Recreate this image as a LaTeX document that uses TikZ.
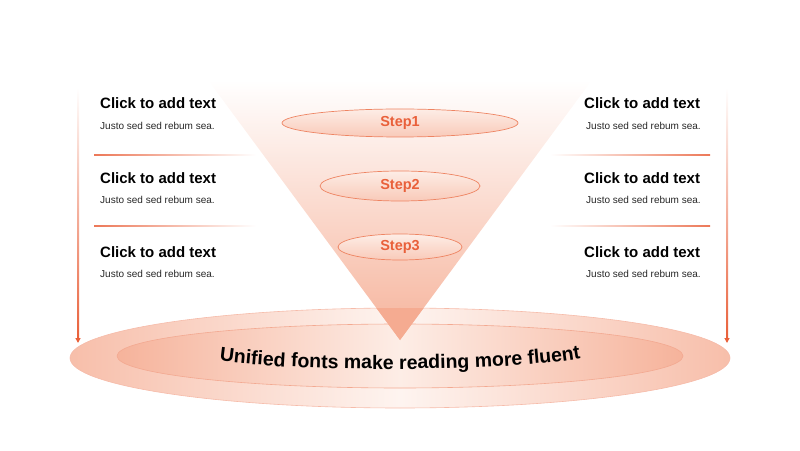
\documentclass[tikz,border=0pt]{standalone}
\usepackage{fontspec}
\setmainfont{Liberation Sans}
\usepackage{tikz}
\usetikzlibrary{
  positioning, shapes.geometric, arrows.meta, calc, decorations.text
}
\definecolor{myorange}{HTML}{E9603A}
\definecolor{mysalmon}{HTML}{F6B39B}
\definecolor{mylight}{HTML}{FDEDE6}
\definecolor{myline}{HTML}{EE8462}
\tikzset{
	titletext/.style={
			anchor=west,
			inner sep=0pt,
			text=black,
			font=\fontsize{15}{18}\selectfont\bfseries
		},
	bodytext/.style={
			anchor=west,
			inner sep=0pt,
			text=black!85,
			font=\fontsize{10}{12}\selectfont
		},
	stepnode/.style={
			ellipse,
			draw=myline,
			line width=0.7pt,
			top color=mylight,
			bottom color=mysalmon!70,
			inner sep=0pt,
			text=myorange,
			font=\fontsize{14.5}{17}\selectfont\bfseries
		},
	basenode/.style={
			ellipse,
			draw=myline!55,
			line width=0.6pt,
			left color=mysalmon!85,
			right color=mysalmon!85,
			middle color=mylight!60,
			inner sep=0pt
		},
	arrowtip/.style={
			myorange,
			line width=1.6pt,
			-{Triangle[length=5pt, width=5pt]}
		}
}

\begin{document}
\begin{tikzpicture}[x=1pt, y=1pt]

  \useasboundingbox (0,0) rectangle (800,450);

  \node[basenode, minimum width=660pt, minimum height=100pt] (base) at (400,92) {};
  \node[basenode, draw=myline!70, left color=mysalmon, right color=mysalmon, middle color=mylight,
        minimum width=566pt, minimum height=64pt] (inner) at (400,94) {};

  \shade[top color=white, middle color=mylight, bottom color=mysalmon]
    (208,370) -- (592,370) -- (400,110) -- cycle;
  \begin{scope}
    \clip (base.center) ellipse (330 and 50);
    \fill[mysalmon!90!myorange] (208,370) -- (592,370) -- (400,110) -- cycle;
  \end{scope}

  \node[stepnode, minimum width=236pt, minimum height=28pt] (s1) at (400,327) {Step1};
  \node[stepnode, minimum width=160pt, minimum height=30pt] (s2) at (400,264) {Step2};
  \node[stepnode, minimum width=124pt, minimum height=26pt] (s3) at (400,203) {Step3};

  \path[decorate, decoration={text along path, text align=center,
        text format delimiters={|}{|},
        text={|\fontsize{19.5}{22}\selectfont\bfseries|Unified fonts make reading more fluent}}]
    (208,91) .. controls (280,77) and (520,77) .. (592,94);

  \node[titletext] (lt1) at (100,347) {Click to add text};
  \node[bodytext] (lb1) at (100,324) {Justo sed sed rebum sea.};
  \node[titletext] (lt2) at (100,272) {Click to add text};
  \node[bodytext] (lb2) at (100,250) {Justo sed sed rebum sea.};
  \node[titletext] (lt3) at (100,198) {Click to add text};
  \node[bodytext] (lb3) at (100,176) {Justo sed sed rebum sea.};

  \node[titletext] (rt1) at (584,347) {Click to add text};
  \node[bodytext] (rb1) at (586,324) {Justo sed sed rebum sea.};
  \node[titletext] (rt2) at (584,272) {Click to add text};
  \node[bodytext] (rb2) at (586,250) {Justo sed sed rebum sea.};
  \node[titletext] (rt3) at (584,198) {Click to add text};
  \node[bodytext] (rb3) at (586,176) {Justo sed sed rebum sea.};

  \coordinate (la1) at (78,362);
  \coordinate (la2) at (78,107);
  \coordinate (ra1) at (727,362);
  \coordinate (ra2) at (727,107);
  \shade[top color=white, middle color=myorange!45, bottom color=myorange] ($(la1)+(-1,0)$) rectangle ($(la2)+(1,4)$);
  \shade[top color=white, middle color=myorange!45, bottom color=myorange] ($(ra1)+(-1,0)$) rectangle ($(ra2)+(1,4)$);
  \draw[arrowtip] ($(la2)+(0,6)$) -- (la2);
  \draw[arrowtip] ($(ra2)+(0,6)$) -- (ra2);

  \coordinate (ls1) at (94,295);
  \coordinate (ls2) at (94,224);
  \coordinate (rs1) at (710,295);
  \coordinate (rs2) at (710,224);
  \shade[left color=myorange!85, right color=white] ($(ls1)+(0,-0.5)$) rectangle ($(ls1)+(162,0.5)$);
  \shade[left color=myorange!85, right color=white] ($(ls2)+(0,-0.5)$) rectangle ($(ls2)+(162,0.5)$);
  \shade[left color=white, right color=myorange!85] ($(rs1)+(-160,-0.5)$) rectangle ($(rs1)+(0,0.5)$);
  \shade[left color=white, right color=myorange!85] ($(rs2)+(-160,-0.5)$) rectangle ($(rs2)+(0,0.5)$);

\end{tikzpicture}
\end{document}
